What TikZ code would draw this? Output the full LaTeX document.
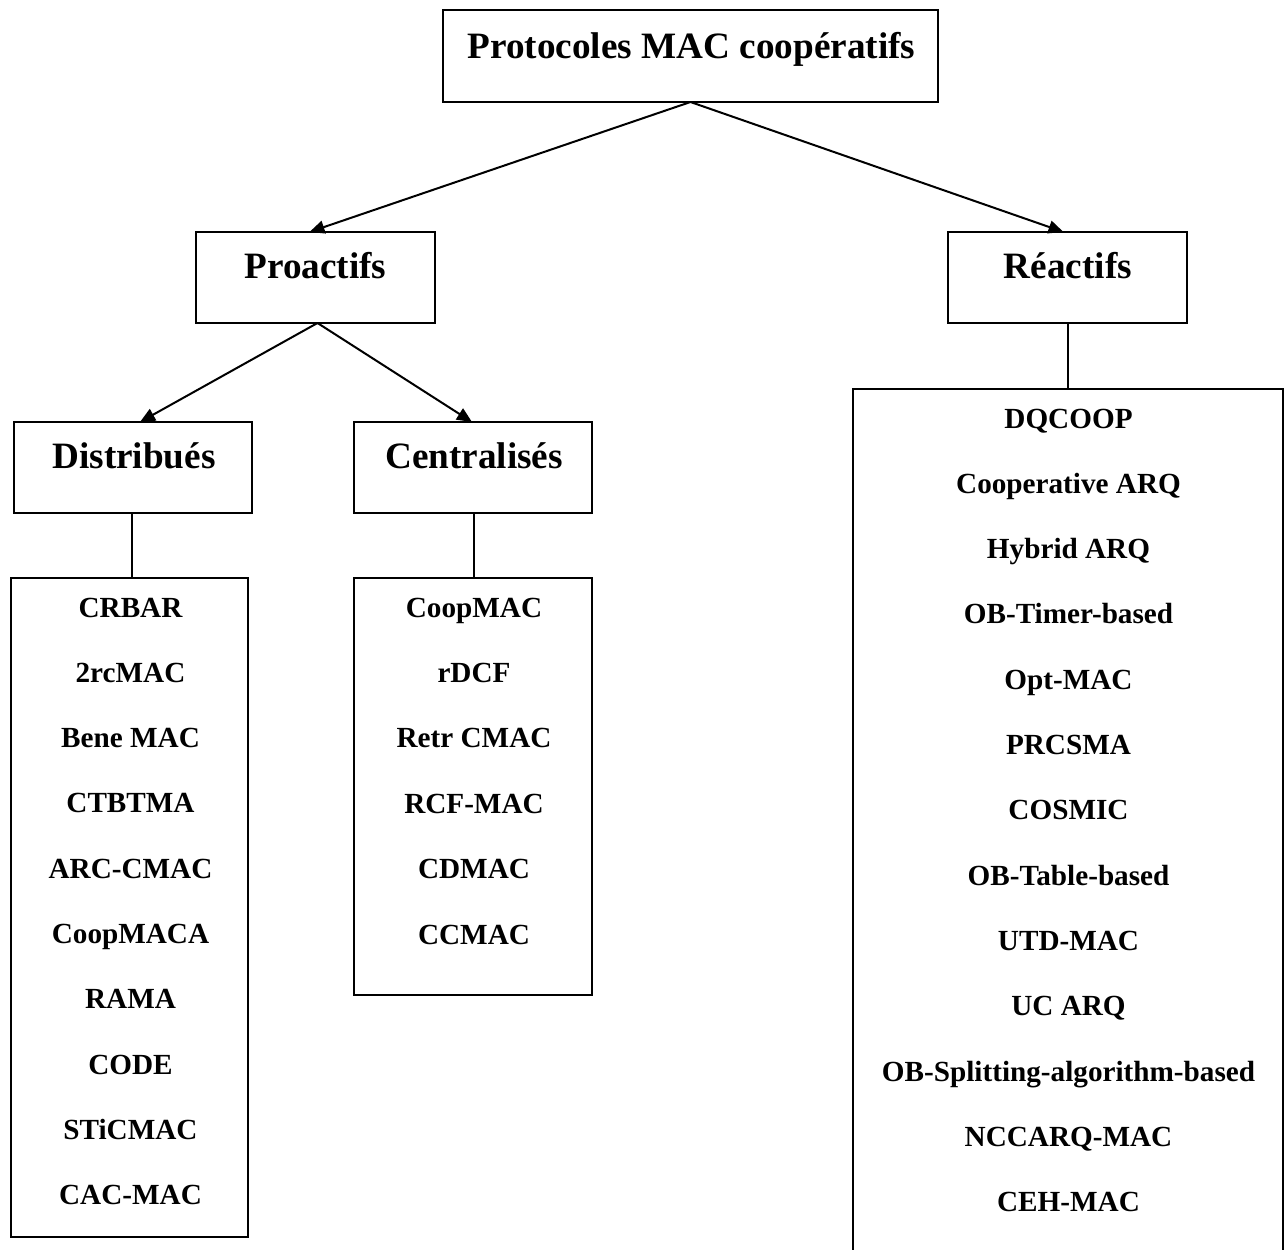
\documentclass[tikz,border=0pt]{standalone}
\usepackage{fontspec}
\setmainfont{Liberation Serif}
\usetikzlibrary{arrows.meta}
\begin{document}
\begin{tikzpicture}[x=1pt,y=-1pt,
  box/.style={draw,line width=2pt,inner sep=0pt,outer sep=0pt},
  head/.style={anchor=base,inner sep=0pt,font=\fontsize{37.2}{40}\selectfont\bfseries},
  item/.style={anchor=base,inner sep=0pt,font=\fontsize{29.2}{32}\selectfont\bfseries},
  arr/.style={line width=2pt,-{Triangle[length=15pt,width=13pt]}},
  link/.style={line width=2pt}]
\useasboundingbox (0,0) rectangle (1288,1250);
\begin{scope}
\clip (0,0) rectangle (1288,1250);

% category boxes
\node[box,minimum width=495pt,minimum height=92pt] (top) at (690.5,56) {};
\node[box,minimum width=239pt,minimum height=91pt] (pro) at (315.5,277.5) {};
\node[box,minimum width=239pt,minimum height=91pt] (rea) at (1067.5,277.5) {};
\node[box,minimum width=238pt,minimum height=91pt] (dis) at (133,467.5) {};
\node[box,minimum width=238pt,minimum height=91pt] (cen) at (473,467.5) {};

% protocol list boxes
\node[box,minimum width=237pt,minimum height=659pt] (dlist) at (129.5,907.5) {};
\node[box,minimum width=238pt,minimum height=417pt] (clist) at (473,786.5) {};
\node[box,minimum width=430pt,minimum height=881pt] (rlist) at (1068,829.5) {};

% headings
\node[head] (ttop) at (691.5,58) {Protocoles MAC coopératifs};
\node[head] (tpro) at (315.5,278) {Proactifs};
\node[head] (trea) at (1068,278) {Réactifs};
\node[head] (tdis) at (134,468) {Distribués};
\node[head] (tcen) at (474,468) {Centralisés};

% connectors
\draw[arr] (top.south) -- ([xshift=-6]pro.north);
\draw[arr] (top.south) -- ([xshift=-4]rea.north);
\draw[arr] ([xshift=2]pro.south) -- ([xshift=7]dis.north);
\draw[arr] ([xshift=2]pro.south) -- ([xshift=-1]cen.north);
\draw[link] ([xshift=-1]dis.south) -- ([xshift=2.5]dlist.north);
\draw[link] ([xshift=1]cen.south) -- ([xshift=1]clist.north);
\draw[link] ([xshift=0.5]rea.south) -- (rlist.north);

% distributed protocols
\foreach \t [count=\i from 0] in {CRBAR,2rcMAC,Bene MAC,CTBTMA,ARC-CMAC,CoopMACA,RAMA,CODE,STiCMAC,CAC-MAC}
  \node[item] (d\i) at (130.5,617+65.33*\i) {\t};

% centralised protocols
\foreach \t [count=\i from 0] in {CoopMAC,rDCF,Retr CMAC,RCF-MAC,CDMAC,CCMAC}
  \node[item] (c\i) at (474,617+65.4*\i) {\t};

% reactive protocols
\foreach \t [count=\i from 0] in {DQCOOP,Cooperative ARQ,Hybrid ARQ,OB-Timer-based,Opt-MAC,PRCSMA,COSMIC,OB-Table-based,UTD-MAC,UC ARQ,OB-Splitting-algorithm-based,NCCARQ-MAC,CEH-MAC}
  \node[item] (r\i) at (1068.5,428+65.33*\i) {\t};
\end{scope}
\end{tikzpicture}
\end{document}
